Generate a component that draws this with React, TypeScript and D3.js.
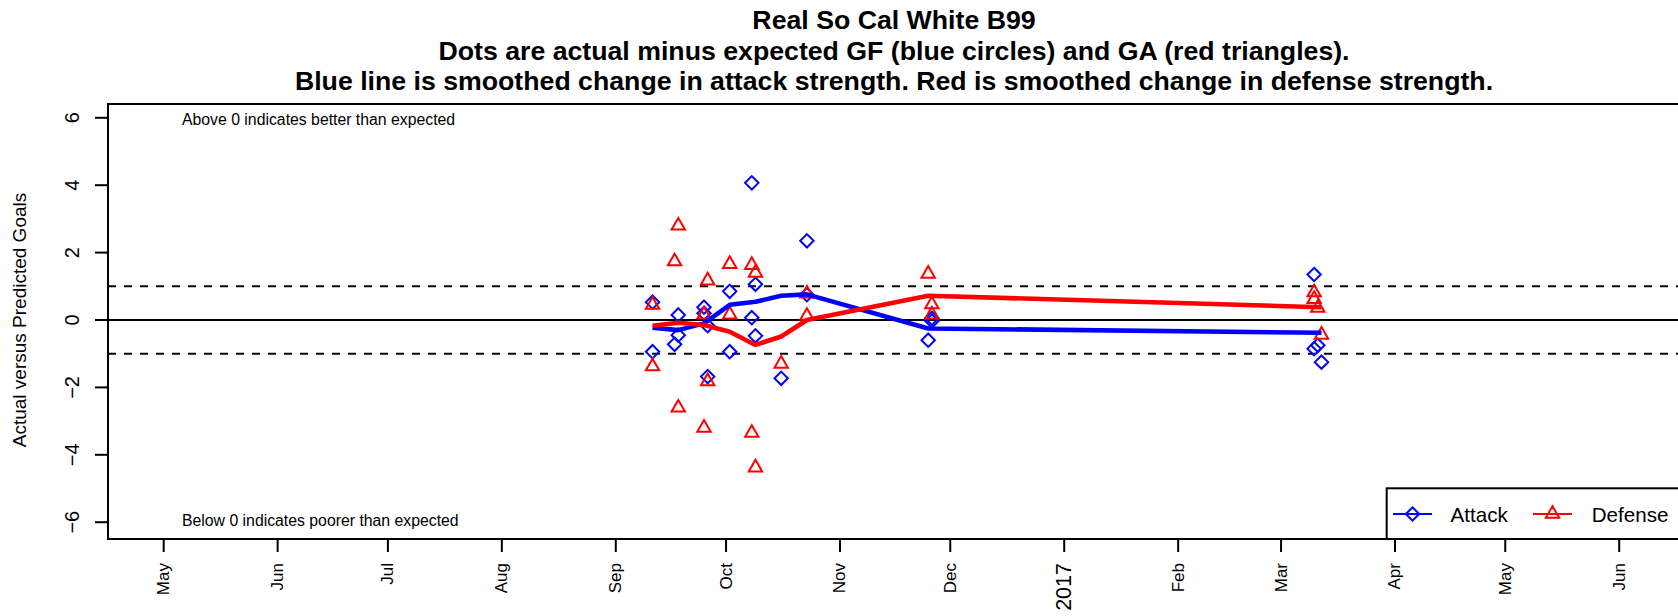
import * as d3 from "d3";
import React, { useEffect, useRef } from "react";

// one entry per game: date, actual minus expected GF (attack) and GA (defense)
const gameDates = [
  "2016-09-11", "2016-09-11", "2016-09-17", "2016-09-18", "2016-09-18",
  "2016-09-25", "2016-09-25", "2016-09-26", "2016-09-26",
  "2016-10-02", "2016-10-02", "2016-10-08", "2016-10-08", "2016-10-09", "2016-10-09",
  "2016-10-16", "2016-10-23", "2016-10-23",
  "2016-11-25", "2016-11-26", "2016-11-26",
  "2017-03-10", "2017-03-10", "2017-03-11", "2017-03-12",
];
const attackDiff = [
  0.53, -0.94, -0.72, 0.15, -0.45,
  0.38, 0.2, -0.17, -1.68,
  0.85, -0.94, 4.07, 0.07, 1.06, -0.47,
  -1.73, 2.35, 0.75,
  -0.6, -0.03, 0.05,
  1.35, -0.85, -0.75, -1.25,
];
const defenseDiff = [
  0.45, -1.38, 1.74, 2.8, -2.6,
  0.16, -3.2, 1.17, -1.82,
  1.66, 0.16, 1.63, -3.35, 1.4, -4.38,
  -1.3, 0.78, 0.12,
  1.37, 0.46, 0.16,
  0.82, 0.62, 0.36, -0.44,
];

// smoothed change in strength
const smoothDates = ["2016-09-11", "2016-09-18", "2016-09-25", "2016-10-02", "2016-10-09", "2016-10-16", "2016-10-23", "2016-11-25", "2017-03-12"];
const attackSmooth = [-0.23, -0.3, -0.1, 0.45, 0.54, 0.72, 0.76, -0.25, -0.38];
const defenseSmooth = [-0.17, -0.08, -0.15, -0.35, -0.74, -0.49, 0.0, 0.72, 0.38];

const yTicks = [-6, -4, -2, 0, 2, 4, 6];
const refLines = [-1, 1];

const titleLines = [
  "Real So Cal White B99",
  "Dots are actual minus expected GF (blue circles) and GA (red triangles).",
  "Blue line is smoothed change in attack strength. Red is smoothed change in defense strength.",
];

const FONT = "'Liberation Sans', Arial, Helvetica, sans-serif";

const Chart: React.FC = () => {
  const ref = useRef<SVGSVGElement>(null);

  useEffect(() => {
    if (!ref.current) return;
    const svg = d3.select(ref.current);
    svg.selectAll("*").remove();

    const left = 108, right = 1680, top = 104, bottom = 539;
    const parse = d3.timeParse("%Y-%m-%d");

    const x = d3
      .scaleTime()
      .domain([parse("2016-05-01")!, parse("2017-06-01")!])
      .range([163.7, 1619.2]);
    const y = d3.scaleLinear().domain([-6, 6]).range([522.2, 117.8]);

    const g = svg.append("g").style("font-family", FONT);

    // titles
    const titleY = [29, 60, 90];
    titleLines.forEach((t, i) => {
      g.append("text")
        .attr("x", (left + right) / 2)
        .attr("y", titleY[i])
        .attr("text-anchor", "middle")
        .style("font-weight", "bold")
        .style("font-size", "26.7px")
        .text(t);
    });

    // reference lines
    g.append("line")
      .attr("x1", left).attr("x2", right)
      .attr("y1", y(0)).attr("y2", y(0))
      .attr("stroke", "black").attr("stroke-width", 2);
    refLines.forEach((v) => {
      g.append("line")
        .attr("x1", left).attr("x2", right)
        .attr("y1", y(v)).attr("y2", y(v))
        .attr("stroke", "black").attr("stroke-width", 2)
        .attr("stroke-dasharray", "8,8");
    });

    // annotations
    g.append("text").attr("x", 182).attr("y", 124.5).style("font-size", "15.8px")
      .text("Above 0 indicates better than expected");
    g.append("text").attr("x", 182).attr("y", 525.5).style("font-size", "15.8px")
      .text("Below 0 indicates poorer than expected");

    const diamond = (r: number) => `M0,${-r}L${r},0L0,${r}L${-r},0Z`;
    const tri = (h: number) => {
      const r = h / 0.866;
      return `M0,${-r}L${h},${r / 2}L${-h},${r / 2}Z`;
    };

    const games = gameDates.map((d, i) => ({
      date: parse(d)!,
      a: attackDiff[i],
      d: defenseDiff[i],
    }));

    g.append("g").selectAll("path").data(games).enter().append("path")
      .attr("d", diamond(6.7))
      .attr("transform", (d) => `translate(${x(d.date)},${y(d.a)})`)
      .attr("fill", "none").attr("stroke", "blue").attr("stroke-width", 2);

    g.append("g").selectAll("path").data(games).enter().append("path")
      .attr("d", tri(6.7))
      .attr("transform", (d) => `translate(${x(d.date)},${y(d.d)})`)
      .attr("fill", "none").attr("stroke", "red").attr("stroke-width", 2);

    // smoothed lines
    const sm = smoothDates.map((d, i) => ({ date: parse(d)!, a: attackSmooth[i], d: defenseSmooth[i] }));
    const lineA = d3.line<typeof sm[0]>().x((d) => x(d.date)).y((d) => y(d.a));
    const lineD = d3.line<typeof sm[0]>().x((d) => x(d.date)).y((d) => y(d.d));
    g.append("path").attr("d", lineA(sm)!).attr("fill", "none").attr("stroke", "blue")
      .attr("stroke-width", 4.6).attr("stroke-linejoin", "round");
    g.append("path").attr("d", lineD(sm)!).attr("fill", "none").attr("stroke", "red")
      .attr("stroke-width", 4.6).attr("stroke-linejoin", "round");

    // box
    g.append("rect")
      .attr("x", left).attr("y", top)
      .attr("width", right - left).attr("height", bottom - top)
      .attr("fill", "none").attr("stroke", "black").attr("stroke-width", 2);

    // y axis
    yTicks.forEach((v) => {
      g.append("line").attr("x1", left - 13).attr("x2", left)
        .attr("y1", y(v)).attr("y2", y(v))
        .attr("stroke", "black").attr("stroke-width", 2);
      g.append("text")
        .attr("transform", `translate(72,${y(v)}) rotate(-90)`)
        .attr("text-anchor", "middle")
        .attr("dominant-baseline", "central")
        .style("font-size", "20px")
        .text(v < 0 ? `\u2212${-v}` : `${v}`);
    });
    g.append("text")
      .attr("transform", `translate(19.5,${y(0)}) rotate(-90)`)
      .attr("text-anchor", "middle")
      .attr("dominant-baseline", "central")
      .style("font-size", "19px")
      .text("Actual versus Predicted Goals");

    // x axis
    const months = d3.timeMonth.range(parse("2016-05-01")!, parse("2017-06-02")!);
    const fmt = d3.timeFormat("%b");
    months.forEach((m) => {
      const isYear = m.getMonth() === 0;
      g.append("line").attr("x1", x(m)).attr("x2", x(m))
        .attr("y1", bottom).attr("y2", bottom + 13)
        .attr("stroke", "black").attr("stroke-width", 2);
      g.append("text")
        .attr("transform", `translate(${x(m)},563) rotate(-90)`)
        .attr("text-anchor", "end")
        .attr("dominant-baseline", "central")
        .style("font-size", isYear ? "21.5px" : "17px")
        .text(isYear ? d3.timeFormat("%Y")(m) : fmt(m));
    });

    // legend
    const lg = g.append("g");
    lg.append("rect").attr("x", 1386.7).attr("y", 488.3)
      .attr("width", right - 1386.7).attr("height", bottom - 488.3)
      .attr("fill", "white").attr("stroke", "black").attr("stroke-width", 2);
    const ly = 514;
    const items = [
      { label: "Attack", color: "blue", shape: diamond(6.7), x0: 1393, tx: 1450.5 },
      { label: "Defense", color: "red", shape: tri(6.7), x0: 1533, tx: 1591.7 },
    ];
    items.forEach((it) => {
      lg.append("line").attr("x1", it.x0).attr("x2", it.x0 + 39)
        .attr("y1", ly).attr("y2", ly)
        .attr("stroke", it.color).attr("stroke-width", 2);
      lg.append("path").attr("d", it.shape)
        .attr("transform", `translate(${it.x0 + 19.5},${ly})`)
        .attr("fill", "none").attr("stroke", it.color).attr("stroke-width", 2);
      lg.append("text").attr("x", it.tx).attr("y", ly)
        .attr("dominant-baseline", "central")
        .style("font-size", "20.6px")
        .text(it.label);
    });
  }, []);

  return (
    <svg
      ref={ref}
      width={1678}
      height={616}
      style={{ position: "absolute", left: 0, top: 0, background: "white" }}
    ></svg>
  );
};

export default function App() {
  return <Chart />;
}
